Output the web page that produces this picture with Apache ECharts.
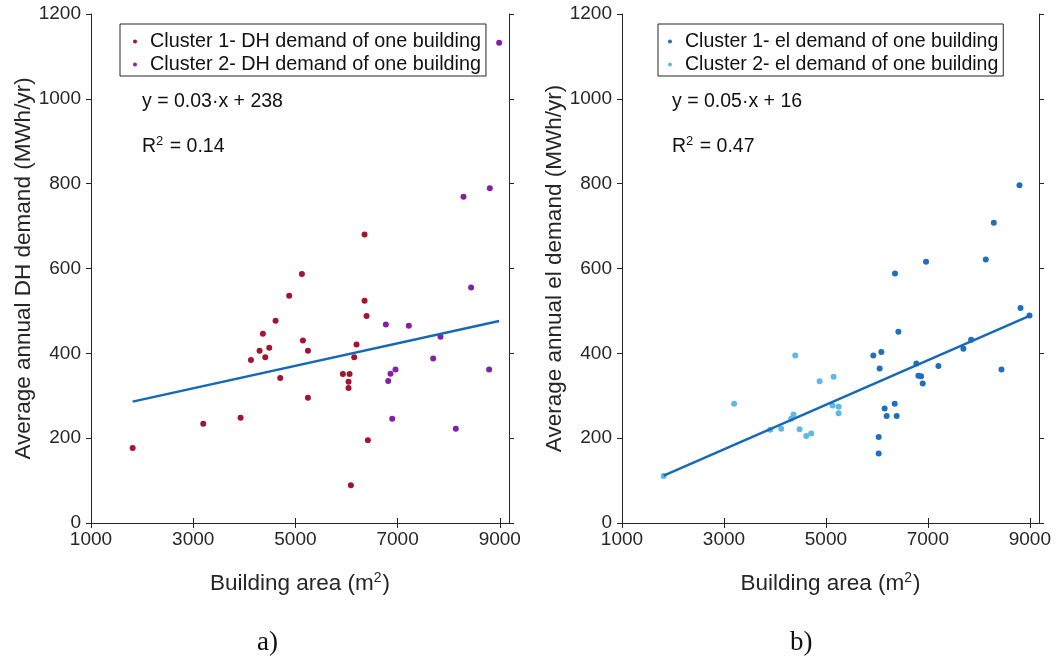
<!DOCTYPE html>
<html>
<head>
<meta charset="utf-8">
<script src="https://cdn.jsdelivr.net/npm/echarts@6/dist/echarts.min.js"></script>
<style>
  html, body { margin: 0; padding: 0; background: #ffffff; }
  #chart { width: 1062px; height: 657px; }
</style>
</head>
<body>
<div id="chart"></div>
<script>
// ---- Panel a): district heating demand per building ----
const dhC1Area   = [1815, 3197, 3927, 4130, 4299, 4364, 4410, 4488, 4612, 4703, 4879, 5127, 5147, 5245, 5245, 5929, 6060, 6040, 6040, 6086, 6151, 6196, 6353, 6353, 6392, 6418];
const dhC1Demand = [177, 234, 248, 384, 406, 446, 391, 413, 477, 342, 536, 587, 430, 406, 295, 351, 351, 333, 318, 89, 391, 421, 680, 524, 488, 195];
const dhC2Area   = [6770, 6816, 6861, 6894, 6959, 7220, 7696, 7839, 8139, 8289, 8439, 8791, 8804, 8987];
const dhC2Demand = [468, 335, 352, 246, 362, 465, 388, 439, 222, 769, 555, 362, 789, 1132];
const dhFit = { slope: 0.0265, intercept: 238, r2: 0.14 };

// ---- Panel b): electricity demand per building ----
const elC1Area   = [5930, 6035, 6035, 6054, 6087, 6152, 6192, 6349, 6355, 6388, 6421, 6774, 6814, 6866, 6899, 6964, 7207, 7697, 7848, 8136, 8293, 8444, 8797, 8817, 8994];
const elC1Demand = [395, 203, 164, 364, 403, 270, 252, 281, 588, 252, 451, 376, 347, 346, 329, 616, 370, 411, 432, 621, 708, 362, 796, 507, 489];
const elC2Area   = [1818, 3200, 3907, 4123, 4319, 4365, 4398, 4483, 4614, 4712, 4876, 5131, 5151, 5249, 5249];
const elC2Demand = [111, 281, 220, 222, 246, 256, 395, 221, 205, 211, 334, 277, 345, 274, 259];
const elFit = { slope: 0.0525, intercept: 16, r2: 0.47 };

// ---- Axis ticks ----
const xTicks = [1000, 3000, 5000, 7000, 9000];
const yTicks = [0, 200, 400, 600, 800, 1000, 1200];

const seriesNames = {
  dh1: 'Cluster 1- DH demand of one building',
  dh2: 'Cluster 2- DH demand of one building',
  el1: 'Cluster 1- el demand of one building',
  el2: 'Cluster 2- el demand of one building'
};

const FONT = "'Liberation Sans', Arial, sans-serif";
const SERIF = "'Liberation Serif', 'Times New Roman', serif";
const INK = '#262626';
const COLORS = { red: '#a2142f', purple: '#8420a8', blue: '#1f6fbd', lightBlue: '#5fb8e6', fit: '#1769b5' };

const zip = (xs, ys) => xs.map((x, i) => [x, ys[i]]);

function fitLine(fit, areas) {
  const lo = Math.min(...areas), hi = Math.max(...areas);
  return [[lo, fit.slope * lo + fit.intercept], [hi, fit.slope * hi + fit.intercept]];
}

const round2 = v => (Math.round(v * 100) / 100).toFixed(2);
const plain = v => String(v);

function xAxisPair(grid, name) {
  const base = {
    gridIndex: grid, type: 'value', min: 1000, max: 9180, interval: 2000,
    splitLine: { show: false },
    axisLine: { show: true, lineStyle: { color: INK, width: 1 } },
    axisTick: { show: true, length: 5, customValues: xTicks, lineStyle: { color: INK } }
  };
  return [
    Object.assign({}, base, {
      position: 'bottom',
      axisLabel: { customValues: xTicks, formatter: plain, fontSize: 19, fontFamily: FONT, color: INK, margin: 7 },
      name: name, nameLocation: 'middle', nameGap: 48,
      nameTextStyle: {
        fontSize: 22.5, fontFamily: FONT, color: INK,
        rich: { sup: { fontSize: 14, fontFamily: FONT, color: INK, verticalAlign: 'top', padding: [0, 1, 11, 0] } }
      }
    }),
    Object.assign({}, base, { position: 'top', axisLabel: { show: false } })
  ];
}

function yAxisPair(grid, name) {
  const base = {
    gridIndex: grid, type: 'value', min: 0, max: 1200, interval: 200,
    splitLine: { show: false },
    axisLine: { show: true, lineStyle: { color: INK, width: 1 } },
    axisTick: { show: true, length: 5, customValues: yTicks, lineStyle: { color: INK } }
  };
  return [
    Object.assign({}, base, {
      position: 'left',
      axisLabel: { customValues: yTicks, formatter: plain, fontSize: 19, fontFamily: FONT, color: INK, margin: 10 },
      name: name, nameLocation: 'middle', nameGap: 56,
      nameTextStyle: { fontSize: 22.5, fontFamily: FONT, color: INK }
    }),
    Object.assign({}, base, { position: 'right', axisLabel: { show: false } })
  ];
}

function legendFor(names, left, padLeft, fontSize) {
  return {
    data: names, left: left, top: 24, orient: 'vertical',
    icon: 'circle', itemWidth: 20, itemHeight: 4, itemGap: 2,
    padding: [7, 5, 1, padLeft],
    borderColor: INK, borderWidth: 1, backgroundColor: '#ffffff',
    selectedMode: false,
    textStyle: { fontSize: fontSize, fontFamily: FONT, color: '#111111', lineHeight: 21 }
  };
}

function scatter(name, xAxisIndex, yAxisIndex, data, color) {
  return {
    type: 'scatter', name: name, xAxisIndex: xAxisIndex, yAxisIndex: yAxisIndex,
    data: data, symbol: 'circle', symbolSize: 6, z: 3,
    itemStyle: { color: color, opacity: 1 }
  };
}

function fitSeries(xAxisIndex, yAxisIndex, fit, areas) {
  return {
    type: 'line', name: 'fit', xAxisIndex: xAxisIndex, yAxisIndex: yAxisIndex,
    data: fitLine(fit, areas), showSymbol: false, symbol: 'none', z: 4,
    lineStyle: { color: COLORS.fit, width: 2.5 }, silent: true
  };
}

function annotation(left, fit) {
  const style = { fontSize: 19.5, fontFamily: FONT, fill: '#111111' };
  return [
    { type: 'text', left: left, top: 92,
      style: Object.assign({ text: 'y = ' + round2(fit.slope) + '\u00b7x + ' + fit.intercept }, style) },
    { type: 'text', left: left, top: 135,
      style: Object.assign({}, style, {
        text: 'R{sup|2} = ' + fit.r2.toFixed(2),
        rich: { sup: { fontSize: 13, fontFamily: FONT, fill: '#111111', verticalAlign: 'top', padding: [0, 1, 10, 0] } }
      }) }
  ];
}

const areaName = 'Building area (m{sup|2})';

const chart = echarts.init(document.getElementById('chart'), null, { renderer: 'canvas' });
chart.setOption({
  animation: false,
  backgroundColor: '#ffffff',
  grid: [
    { left: 91, top: 14, width: 418, height: 509 },
    { left: 622, top: 14, width: 417, height: 509 }
  ],
  xAxis: [...xAxisPair(0, areaName), ...xAxisPair(1, areaName)],
  yAxis: [
    ...yAxisPair(0, 'Average annual DH demand (MWh/yr)'),
    ...yAxisPair(1, 'Average annual el demand (MWh/yr)')
  ],
  legend: [
    legendFor([seriesNames.dh1, seriesNames.dh2], 120, 13, 19.8),
    legendFor([seriesNames.el1, seriesNames.el2], 658, 10, 19.5)
  ],
  series: [
    scatter(seriesNames.dh1, 0, 0, zip(dhC1Area, dhC1Demand), COLORS.red),
    scatter(seriesNames.dh2, 0, 0, zip(dhC2Area, dhC2Demand), COLORS.purple),
    fitSeries(0, 0, dhFit, dhC1Area.concat(dhC2Area)),
    scatter(seriesNames.el1, 2, 2, zip(elC1Area, elC1Demand), COLORS.blue),
    scatter(seriesNames.el2, 2, 2, zip(elC2Area, elC2Demand), COLORS.lightBlue),
    fitSeries(2, 2, elFit, elC1Area.concat(elC2Area))
  ],
  graphic: [
    ...annotation(142, dhFit),
    ...annotation(672, elFit),
    { type: 'text', left: 257, top: 629,
      style: { text: 'a)', fontSize: 27, fontFamily: SERIF, fill: '#111111' } },
    { type: 'text', left: 790, top: 629,
      style: { text: 'b)', fontSize: 27, fontFamily: SERIF, fill: '#111111' } }
  ]
});
</script>
</body>
</html>
